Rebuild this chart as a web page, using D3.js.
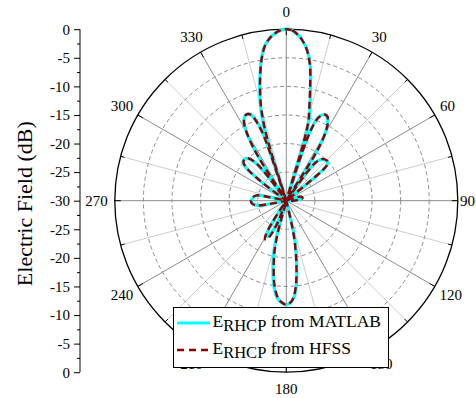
<!DOCTYPE html>
<html>
<head>
<meta charset="utf-8">
<script src="https://cdn.jsdelivr.net/npm/d3@7"></script>
<style>
  html, body { margin: 0; padding: 0; background: #fff; }
  svg { display: block; }
  text { font-family: "Liberation Serif", "Times New Roman", serif; fill: #000; }
</style>
</head>
<body>
<svg id="chart" width="476" height="398"></svg>
<script>
// Pattern samples: angle (deg, clockwise from broadside) and field level (dB)
const angleDeg = [0, 2, 4, 6, 8, 10, 12, 14, 15.5, 16.5, 17.3, 18.2, 19, 20, 21, 22.5, 24, 26, 28, 29.5, 31, 32, 33,
  36, 37.5, 40, 43, 46, 48, 49.5, 50.5, 51.5, 66, 70, 75, 80, 85, 90, 93, 165, 167, 168, 170, 172, 173.5, 175, 177,
  180, 183, 185, 186.5, 188.5, 190.5, 193, 195, 196.5, 201, 204, 207, 209, 211, 213, 215, 255, 259, 261, 265, 270,
  275, 280, 282, 285, 305.5, 307, 308.5, 310, 312, 315, 318, 321, 323, 324.5, 327.5, 329, 330.5, 332, 334, 336,
  338, 340, 341, 341.8, 342.6, 343.5, 345, 346.5, 348, 350, 352, 354, 356, 358];

const matlabDb = [0, -0.2, -0.9, -2.0, -3.5, -5.9, -9.6, -12.8, -14.8, -17.5, -30, -20, -17, -15.3, -14.4, -13.8, -13.5, -13.7, -14.6, -15.8, -18, -21, -30,
  -24, -21.5, -20.6, -20.2, -20.1, -20.3, -21, -23, -30, -30, -28.5, -27.5, -27.2, -27.8, -29, -30, -30, -25, -22.5, -19.7, -16.8, -14.8, -13.4, -12.3,
  -11.8, -12.2, -12.8, -13.6, -15.1, -17.2, -19.9, -23, -30, -27, -24.2, -23, -22.9, -23.6, -26, -30, -30, -27, -24.8, -24.1, -23.9,
  -24.1, -24.8, -27, -30, -30, -25, -22, -20.5, -19.8, -19.7, -20.1, -21.5, -25, -30, -21, -17.5, -15.4, -14.2, -13.5, -13.4,
  -13.9, -15.8, -17.8, -30, -20, -15.5, -12.4, -10.1, -7.8, -4.9, -2.7, -1.5, -0.7, -0.2];

const hfssDb = [0, -0.2, -0.9, -2.0, -3.6, -6.1, -10.0, -13.4, -15.6, -19.0, -30, -21, -17.6, -15.5, -14.5, -13.8, -13.5, -13.6, -14.5, -15.8, -18, -21, -30,
  -24.5, -21.6, -20.5, -20.1, -20.0, -20.2, -21, -23, -30, -30, -28.2, -27.3, -27.1, -27.6, -28.8, -30, -30, -26, -23.5, -20.2, -17.2, -15.1, -13.6, -12.4,
  -11.8, -12.3, -13.0, -13.9, -15.6, -17.9, -20.8, -24.5, -30, -26.5, -23.6, -22.4, -22.3, -23, -25.5, -30, -30, -27, -24.7, -24.0, -23.8,
  -24.0, -24.7, -27, -30, -30, -25, -22, -20.6, -19.9, -19.7, -20.0, -21.4, -25, -30, -21, -17.5, -15.4, -14.2, -13.5, -13.4,
  -13.9, -16.2, -18.6, -30, -21.5, -16.5, -12.9, -10.4, -8.0, -5.0, -2.8, -1.5, -0.7, -0.2];

const seriesNames = ["MATLAB", "HFSS"];
const seriesColors = ["#00ffff", "#8b0000"];
const radialTicks = [-25, -20, -15, -10, -5];
const angleLabels = [0, 30, 60, 90, 120, 150, 180, 210, 240, 270, 300, 330];
const axisTicks = [0, -5, -10, -15, -20, -25, -30];
const axisMinorTicks = [-2.5, -7.5, -12.5, -17.5, -22.5, -27.5];

const W = 476;
const svg = d3.select("#chart");
const cx = 286.3, cy = 200.7, R = 171.5;

const r = d3.scaleLinear().domain([-30, 0]).range([0, R]).clamp(true);
const rad = d => d * Math.PI / 180;

const polar = svg.append("g").attr("transform", `translate(${cx},${cy})`);

// spokes every 15 degrees
const spokes = d3.range(0, 360, 15);
polar.selectAll("line.spoke").data(spokes).join("line")
  .attr("x1", 0).attr("y1", 0)
  .attr("x2", d => R * Math.sin(rad(d)))
  .attr("y2", d => -R * Math.cos(rad(d)))
  .attr("stroke", d => d % 30 === 0 ? "#8a8a8a" : "#cdcdcd")
  .attr("stroke-width", 1);

// dashed level rings
polar.selectAll("circle.ring").data(radialTicks).join("circle")
  .attr("r", d => r(d))
  .attr("fill", "none")
  .attr("stroke", "#8a8a8a")
  .attr("stroke-width", 1)
  .attr("stroke-dasharray", "4,3");

// outer boundary
polar.append("circle").attr("r", R).attr("fill", "none")
  .attr("stroke", "#000").attr("stroke-width", 1.3);

// inward ticks on the boundary
polar.selectAll("line.tick").data(spokes).join("line")
  .attr("x1", d => R * Math.sin(rad(d)))
  .attr("y1", d => -R * Math.cos(rad(d)))
  .attr("x2", d => (R - (d % 30 === 0 ? 6 : 4)) * Math.sin(rad(d)))
  .attr("y2", d => -(R - (d % 30 === 0 ? 6 : 4)) * Math.cos(rad(d)))
  .attr("stroke", "#000").attr("stroke-width", 1);

// pattern curves
const radial = d3.lineRadial()
  .angle(d => rad(d.a))
  .radius(d => r(d.v))
  .curve(d3.curveCatmullRomClosed.alpha(0.5));

const seriesData = [matlabDb, hfssDb].map(vals => angleDeg.map((a, i) => ({ a, v: vals[i] })));

polar.append("path").datum(seriesData[0])
  .attr("d", radial).attr("fill", "none")
  .attr("stroke", seriesColors[0]).attr("stroke-width", 3.2)
  .attr("stroke-linejoin", "round");

polar.append("path").datum(seriesData[1])
  .attr("d", radial).attr("fill", "none")
  .attr("stroke", seriesColors[1]).attr("stroke-width", 2.4)
  .attr("stroke-dasharray", "7,4");

// angle labels, kept inside the drawing area
const lbl = polar.selectAll("text.ang").data(angleLabels).join("text")
  .attr("font-size", 15)
  .attr("text-anchor", "middle")
  .attr("dominant-baseline", "central")
  .text(d => d);
lbl.each(function(d) {
  const w = this.getComputedTextLength();
  const s = Math.sin(rad(d)), c = Math.cos(rad(d));
  let x = R * s + s * (w / 2 + 7);
  const y = -R * c - c * (5 + 12);
  x = Math.min(x, W - cx - w / 2 - 1);
  d3.select(this).attr("x", x).attr("y", y);
});

// left level axis, mirrored about the centre
const axisX = 80;
const yTop = d3.scaleLinear().domain([-30, 0]).range([cy, cy - R]);
const yBot = d3.scaleLinear().domain([-30, 0]).range([cy, cy + R]);
const axG = svg.append("g").attr("transform", `translate(${axisX},0)`);

function drawAxis(scale, values, minor) {
  const g = axG.append("g").call(
    d3.axisLeft(scale).tickValues(values).tickSize(6).tickPadding(4).tickFormat(d => String(d))
  );
  g.select(".domain").remove();
  g.selectAll("text").attr("font-size", 15);
  g.selectAll("line").attr("stroke", "#000");
  const m = axG.append("g").call(d3.axisLeft(scale).tickValues(minor).tickSize(3).tickFormat(""));
  m.select(".domain").remove();
  m.selectAll("line").attr("stroke", "#000");
}
drawAxis(yTop, axisTicks, axisMinorTicks);
drawAxis(yBot, axisTicks.filter(d => d !== -30), axisMinorTicks);
axG.append("line").attr("x1", 0).attr("x2", 0)
  .attr("y1", cy - R).attr("y2", cy + R)
  .attr("stroke", "#000").attr("stroke-width", 1);

svg.append("text")
  .attr("transform", `translate(32,${cy + 3}) rotate(-90)`)
  .attr("text-anchor", "middle")
  .attr("font-size", 22)
  .text("Electric Field (dB)");

// legend
const lg = svg.append("g").attr("transform", "translate(173.5,307.5)");
lg.append("rect").attr("width", 215).attr("height", 60)
  .attr("fill", "#fff").attr("stroke", "#000").attr("stroke-width", 1);
seriesNames.forEach((name, i) => {
  const y = 15.5 + i * 27;
  lg.append("line").attr("x1", 3.5).attr("x2", 36.5).attr("y1", y).attr("y2", y)
    .attr("stroke", seriesColors[i])
    .attr("stroke-width", i === 0 ? 3.2 : 2.4)
    .attr("stroke-dasharray", i === 0 ? null : "7,5");
  const t = lg.append("text").attr("x", 39).attr("y", y + 4).attr("font-size", 17.5);
  t.append("tspan").text("E");
  t.append("tspan").attr("dy", 4).attr("font-size", 16.5).text("RHCP");
  t.append("tspan").attr("dy", -4).text(" from " + name);
});
</script>
</body>
</html>
